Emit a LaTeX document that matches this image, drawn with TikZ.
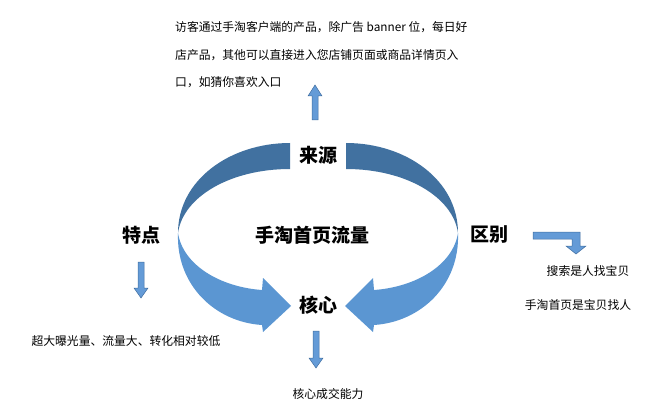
\documentclass[tikz,border=0pt]{standalone}
\usepackage{fontspec}
\setmainfont{Noto Sans CJK SC}
\begin{document}
\begin{tikzpicture}[x=1pt,y=-1pt,
  big/.style={font=\bfseries\fontsize{19}{22}\selectfont},
  small/.style={font=\fontsize{11.8}{14}\selectfont,inner sep=0pt},
  dark/.style={fill={rgb,255:red,65;green,113;blue,160}},
  light/.style={fill={rgb,255:red,91;green,150;blue,210}},
  barrow/.style={fill={rgb,255:red,100;green,155;blue,215},draw={rgb,255:red,65;green,110;blue,160},line width=0.5pt}]
\useasboundingbox (0,0) rectangle (664,409);
% left ribbon
\fill[dark] (290,143) .. controls (230,143) and (178,180) .. (178,233)
  .. controls (183,197) and (230,169) .. (290,169) -- cycle;
\fill[light] (178,233) .. controls (183,265) and (220,287) .. (262,290)
  -- (263,278) -- (291,306) -- (263,332) -- (262,325)
  .. controls (215,322) and (176,285) .. (178,233) -- cycle;
% right ribbon (mirrored about x=318)
\begin{scope}[xshift=636pt,x=-1pt]
\fill[dark] (290,143) .. controls (230,143) and (178,180) .. (178,233)
  .. controls (183,197) and (230,169) .. (290,169) -- cycle;
\fill[light] (178,233) .. controls (183,265) and (220,287) .. (262,290)
  -- (263,278) -- (291,306) -- (263,332) -- (262,325)
  .. controls (215,322) and (176,285) .. (178,233) -- cycle;
\end{scope}
% texts
\node[big] (ly) at (318,155) {来源};
\node[big] (td) at (141,235) {特点};
\node[big] (qb) at (489,235) {区别};
\node[big] (mid) at (312,235) {手淘首页流量};
\node[big] (hx) at (318,305) {核心};
\node[small,anchor=west] (t1) at (175,27) {访客通过手淘客户端的产品，除广告 banner 位，每日好};
\node[small,anchor=west] (t2) at (175,55) {店产品，其他可以直接进入您店铺页面或商品详情页入};
\node[small,anchor=west] (t3) at (175,82) {口，如猜你喜欢入口};
\node[small] (l1) at (126,341) {超大曝光量、流量大、转化相对较低};
\node[small] (r1) at (588,271) {搜索是人找宝贝};
\node[small] (r2) at (578,305) {手淘首页是宝贝找人};
\node[small] (b1) at (328,394) {核心成交能力};
% block arrows
\draw[barrow] (312,120) -- (312,96) -- (308,96) -- (315,85) -- (322,96) -- (318,96) -- (318,120) -- cycle;
\draw[barrow] (138,262) -- (144,262) -- (144,288) -- (148,288) -- (141,298) -- (134,288) -- (138,288) -- cycle;
\draw[barrow] (313,331) -- (319,331) -- (319,358) -- (323,358) -- (316,368) -- (309,358) -- (313,358) -- cycle;
\draw[barrow] (533,232) -- (580,232) -- (580,246) -- (586,246) -- (576,254) -- (566,246) -- (572,246) -- (572,239) -- (533,239) -- cycle;
\end{tikzpicture}
\end{document}
